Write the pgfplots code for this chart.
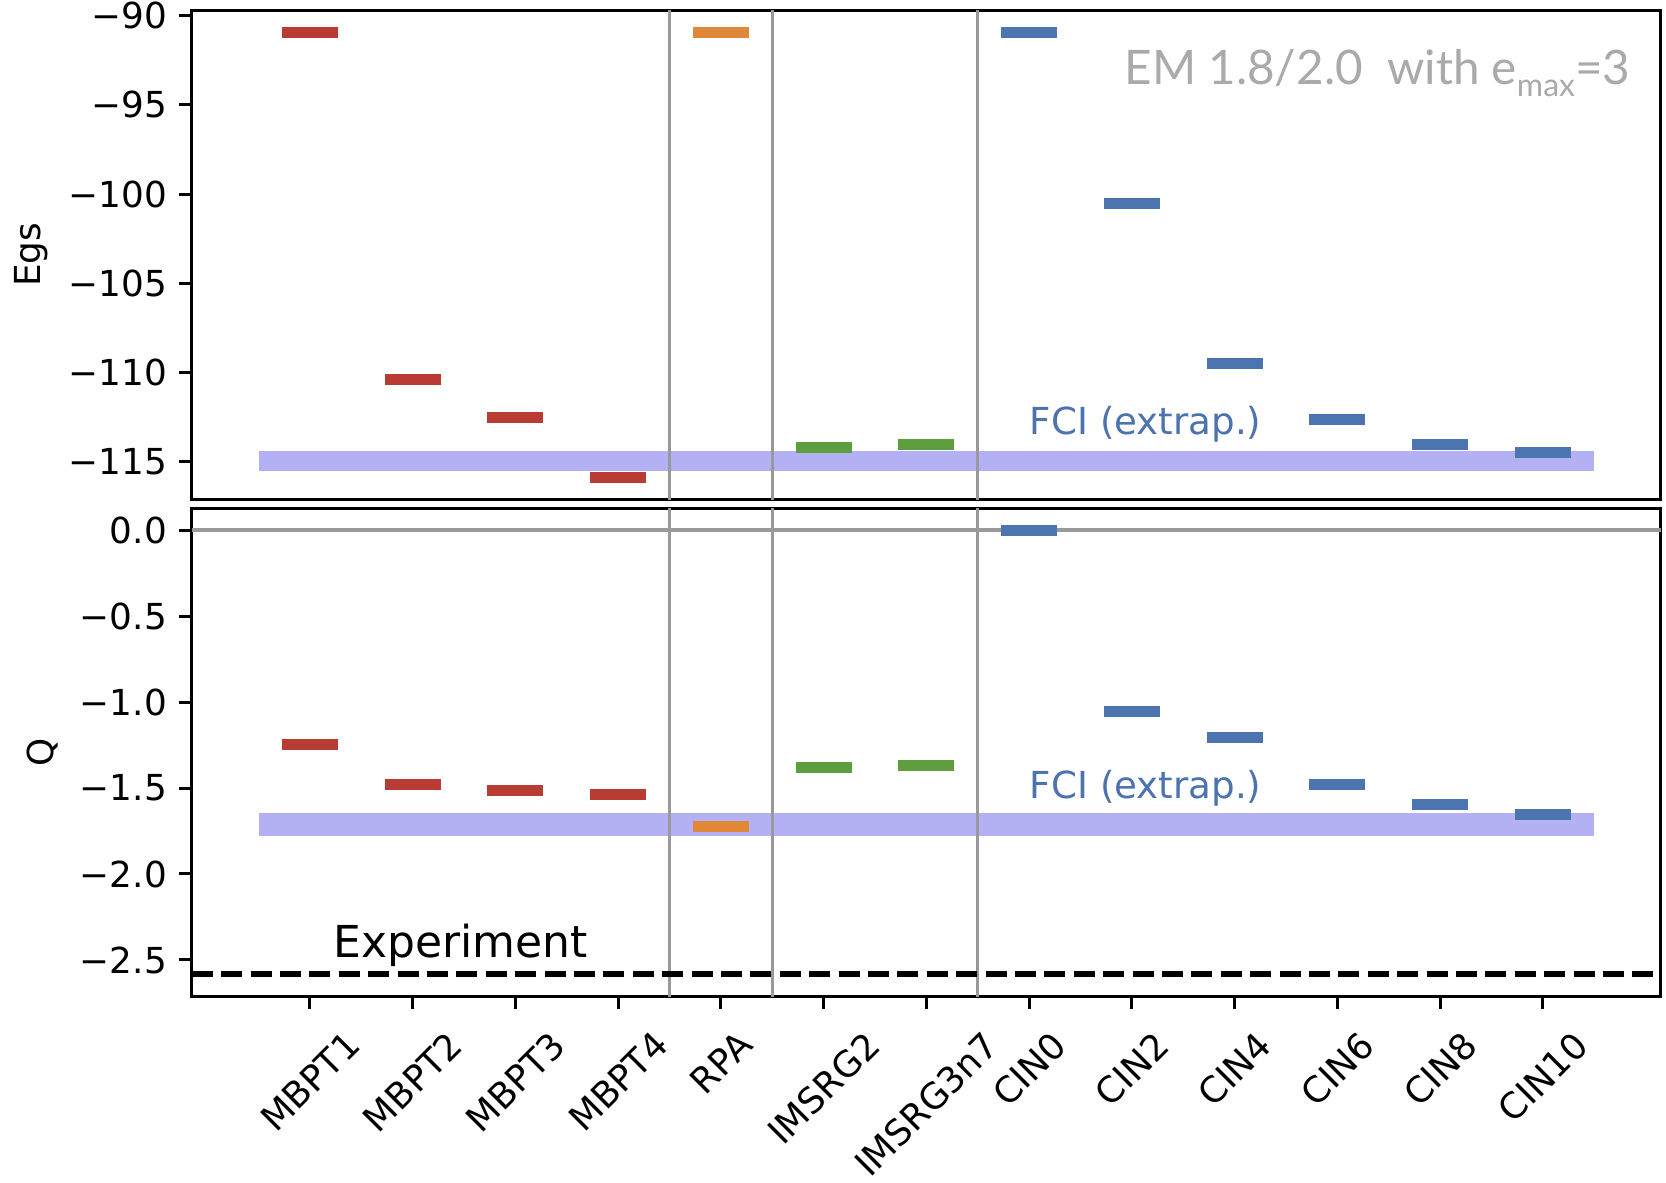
\documentclass[border=0pt]{standalone}
\usepackage{fontspec}
\setmainfont{DejaVu Sans}
\newfontfamily\lato{Lato}
\usepackage{graphicx}
\usepackage{pgfplots}
\pgfplotsset{compat=1.18}

\definecolor{mbpt}{HTML}{B83C34}
\definecolor{rpa}{HTML}{E08838}
\definecolor{imsrg}{HTML}{5E9E3E}
\definecolor{ci}{HTML}{4C74AE}
\definecolor{fciband}{HTML}{B3B1F3}
\definecolor{sepgray}{HTML}{999999}
\definecolor{titlegray}{HTML}{AAAAAA}
\definecolor{fcitext}{HTML}{4C72B0}

\newcommand{\rl}[1]{\rotatebox{45}{#1}}

\pgfplotsset{
  levels/.style={only marks, mark=-, mark size=7pt,
    mark options={line width=2.75pt, line cap=butt, solid}},
  separator/.style={sepgray, line width=0.85pt, forget plot},
  panel/.style={
    scale only axis, width=367.3pt, height=122pt,
    xmin=-1.15, xmax=13.15,
    axis line style={line width=0.75pt},
    every tick/.style={black, line width=0.75pt},
    major tick length=3.1pt, tick align=outside,
    ytick pos=left, xtick pos=bottom,
    tick label style={font=\fontsize{8.95}{10}\selectfont},
    yticklabel style={anchor=east, inner sep=0pt, xshift=-2.9pt},
    every axis y label/.style={at={(rel axis cs:0,0.5)}, rotate=90,
      anchor=center, font=\fontsize{8.95}{10}\selectfont},
  },
}

\begin{document}
\begin{tikzpicture}
\useasboundingbox (0,0) rectangle (416.5pt,295.5pt);

% ground-state energies
\begin{axis}[panel, at={(47.93pt,170.75pt)}, anchor=south west,
  ymin=-117.09, ymax=-89.74,
  ytick={-115,-110,-105,-100,-95,-90},
  yticklabels={−115,−110,−105,−100,−95,−90},
  xtick=\empty,
  ylabel={Egs}, ylabel style={yshift=40.2pt}]
  \addplot[fciband, line width=4.9pt, line cap=butt] coordinates {(-0.5,-114.95) (12.5,-114.95)};
  \addplot[separator] coordinates {(3.5,-130) (3.5,-80)};
  \addplot[separator] coordinates {(4.5,-130) (4.5,-80)};
  \addplot[separator] coordinates {(6.5,-130) (6.5,-80)};
  \addplot[levels, mbpt] coordinates {(0,-90.97) (1,-110.37) (2,-112.50) (3,-115.87)};
  \addplot[levels, rpa] coordinates {(4,-90.97)};
  \addplot[levels, imsrg] coordinates {(5,-114.23) (6,-114.05)};
  \addplot[levels, ci] coordinates {(7,-90.97) (8,-100.51) (9,-109.51) (10,-112.63) (11,-114.05) (12,-114.50)};
  \node[anchor=base west, inner sep=0pt, text=fcitext, font=\fontsize{9.3}{11}\selectfont]
    at (axis cs:7.0,-113.5) {FCI (extrap.)};
  \node[anchor=base east, inner sep=0pt, text=titlegray, font=\lato\fontsize{11.9}{14}\selectfont]
    at (axis cs:12.86,-93.85) {EM 1.8/2.0\ \ with e\raisebox{-3.1pt}{\fontsize{8}{9}\selectfont max}=3};
\end{axis}

% quadrupole moments
\begin{axis}[panel, at={(47.93pt,46.4pt)}, anchor=south west,
  ymin=-2.712, ymax=0.126,
  ytick={-2.5,-2,-1.5,-1,-0.5,0},
  yticklabels={−2.5,−2.0,−1.5,−1.0,−0.5,0.0},
  xtick={0,...,12},
  xticklabels={\rl{MBPT1},\rl{MBPT2},\rl{MBPT3},\rl{MBPT4},\rl{RPA},\rl{IMSRG2},\rl{IMSRG3n7},\rl{CIN0},\rl{CIN2},\rl{CIN4},\rl{CIN6},\rl{CIN8},\rl{CIN10}},
  xticklabel style={anchor=north, inner sep=0pt, yshift=-4.9pt},
  ylabel={Q}, ylabel style={yshift=37.2pt}]
  \addplot[fciband, line width=5.8pt, line cap=butt] coordinates {(-0.5,-1.712) (12.5,-1.712)};
  \addplot[separator] coordinates {(-1.15,0) (13.15,0)};
  \addplot[separator] coordinates {(3.5,-3) (3.5,1)};
  \addplot[separator] coordinates {(4.5,-3) (4.5,1)};
  \addplot[separator] coordinates {(6.5,-3) (6.5,1)};
  \addplot[levels, mbpt] coordinates {(0,-1.249) (1,-1.482) (2,-1.515) (3,-1.539)};
  \addplot[levels, rpa] coordinates {(4,-1.726)};
  \addplot[levels, imsrg] coordinates {(5,-1.382) (6,-1.368)};
  \addplot[levels, ci] coordinates {(7,0.0) (8,-1.054) (9,-1.205) (10,-1.482) (11,-1.596) (12,-1.654)};
  \addplot[black, line width=1.6pt, dash pattern=on 5.25pt off 2.1pt] coordinates {(-1.15,-2.582) (13.15,-2.582)};
  \node[anchor=base west, inner sep=0pt, font=\fontsize{11}{13}\selectfont]
    at (axis cs:0.22,-2.483) {Experiment};
  \node[anchor=base west, inner sep=0pt, text=fcitext, font=\fontsize{9.3}{11}\selectfont]
    at (axis cs:7.0,-1.561) {FCI (extrap.)};
\end{axis}
\end{tikzpicture}
\end{document}
